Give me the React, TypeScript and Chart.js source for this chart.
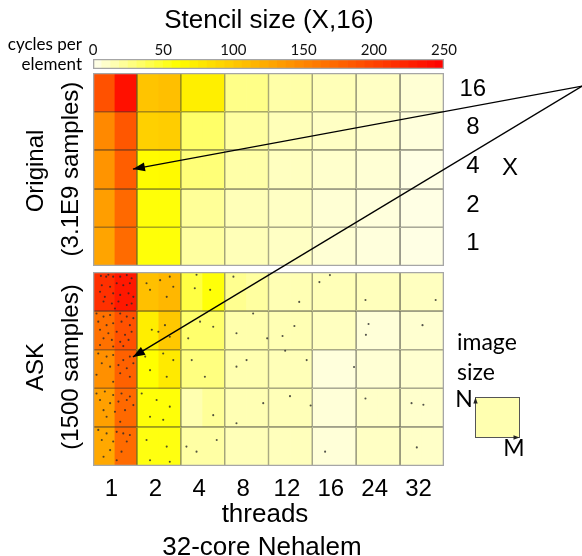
import React, { useEffect, useRef } from 'react';
import { Chart, registerables } from 'chart.js';

Chart.register(...registerables);

const SANS = '"Liberation Sans", Arial, Helvetica, sans-serif';
const HUMAN = 'Lato, "Open Sans", sans-serif';

// ---------------- data ----------------
const threadCounts = ['1', '2', '4', '8', '12', '16', '24', '32'];
// stencil X, rows from top to bottom
const stencilX = ['16', '8', '4', '2', '1'];
const colorbarTicks = [0, 50, 100, 150, 200, 250];
const colorbarMax = 250;

// cycles per element; each row = for every thread count (left half, right half) of the cell
const originalRows: number[][] = [
  [190, 238, 104, 108, 72, 72, 26, 26, 18, 18, 14, 14, 11, 11, 7, 7],
  [148, 185, 95, 97, 34, 34, 20, 20, 14, 14, 11, 11, 9, 9, 5, 5],
  [140, 180, 62, 64, 30, 30, 18, 18, 12, 12, 9, 9, 7, 7, 3, 3],
  [132, 172, 58, 58, 22, 22, 14, 14, 11, 11, 7, 7, 5, 5, 3, 3],
  [128, 170, 58, 58, 20, 20, 14, 14, 11, 11, 7, 7, 5, 5, 3, 3],
];
const askRows: number[][] = [
  [214, 232, 107, 114, 43, 58, 24, 20, 15, 15, 14, 14, 13, 13, 12, 12],
  [166, 190, 73, 101, 33, 33, 17, 17, 15, 15, 12, 12, 6, 6, 8, 8],
  [143, 178, 60, 76, 28, 28, 16, 16, 14, 14, 5, 5, 7, 7, 8, 8],
  [131, 172, 58, 58, 16, 22, 15, 15, 14, 14, 6, 6, 10, 10, 9, 9],
  [125, 170, 56, 56, 19, 19, 14, 14, 13, 13, 6, 6, 11, 11, 10, 10],
];
// ASK sample locations: [thread column position, row position (0 = bottom of X=1 row)]
const askSamples: [number, number][] = [
  [0.18, 4.9], [0.3, 4.88], [0.35, 4.93], [0.46, 4.88], [0.62, 4.88], [0.77, 4.92], [0.88, 4.84],
  [0.2, 4.66], [0.39, 4.62], [0.54, 4.71], [0.69, 4.66], [0.84, 4.71], [0.16, 4.49], [0.27, 4.36],
  [0.46, 4.45], [0.62, 4.41], [0.81, 4.45], [0.92, 4.36], [0.24, 4.24], [0.43, 4.19], [0.58, 4.24],
  [0.77, 4.15], [0.88, 4.19], [0.5, 4.06],
  [0.08, 3.93], [0.24, 3.85], [0.39, 3.89], [0.62, 3.93], [0.77, 3.85], [0.92, 3.81], [0.12, 3.72],
  [0.31, 3.63], [0.46, 3.68], [0.65, 3.72], [0.84, 3.63], [0.16, 3.51], [0.35, 3.42], [0.54, 3.46],
  [0.73, 3.38], [0.88, 3.46], [0.24, 3.29], [0.43, 3.25], [0.62, 3.2], [0.81, 3.25], [0.16, 3.12],
  [0.46, 3.08], [0.69, 3.09],
  [0.12, 2.9], [0.31, 2.82], [0.46, 2.86], [0.69, 2.73], [0.84, 2.82], [0.2, 2.65], [0.39, 2.56],
  [0.58, 2.6], [0.77, 2.52], [0.92, 2.65], [0.08, 2.35], [0.62, 2.39], [0.84, 2.3], [0.46, 2.17],
  [0.08, 1.87], [0.27, 1.92], [0.46, 1.83], [0.65, 1.87], [0.84, 1.79], [0.16, 1.7], [0.39, 1.62],
  [0.58, 1.66], [0.77, 1.7], [0.92, 1.57], [0.24, 1.44], [0.5, 1.4], [0.73, 1.44], [0.31, 1.27],
  [0.62, 1.14],
  [0.12, 0.93], [0.31, 0.84], [0.54, 0.88], [0.69, 0.84], [0.84, 0.8], [0.2, 0.67], [0.46, 0.63],
  [0.77, 0.63], [0.39, 0.41], [0.65, 0.37], [0.24, 0.24], [0.54, 0.15],
  [1.22, 4.71], [1.3, 4.54], [1.53, 4.79], [1.75, 4.88], [1.83, 4.62], [1.68, 4.36], [1.34, 3.51],
  [1.49, 3.46], [1.64, 3.63], [1.75, 3.33], [1.19, 2.82], [1.6, 2.9], [1.83, 2.73], [1.3, 2.47],
  [1.68, 2.3], [1.11, 1.87], [1.45, 1.7], [1.75, 1.53], [1.3, 1.27], [1.6, 1.19], [1.22, 0.67],
  [1.68, 0.5], [1.3, 0.15], [1.75, 0.11],
  [2.36, 4.93], [2.32, 4.58], [2.67, 4.54], [2.17, 3.29], [2.44, 3.72], [2.74, 3.59], [2.25, 2.73],
  [2.55, 2.3], [2.13, 0.5], [2.36, 0.37], [2.82, 0.67], [2.74, 1.31],
  [3.2, 4.88], [3.27, 3.42], [3.65, 3.93], [3.97, 3.29], [3.5, 2.73], [3.27, 2.56], [3.88, 1.62],
  [3.27, 1.1],
  [5.4, 4.92], [5.16, 4.74], [4.7, 4.23], [6.21, 4.28], [7.81, 4.28], [4.59, 3.61], [4.32, 3.35],
  [6.28, 3.66], [6.22, 3.38], [7.51, 3.63], [4.38, 2.97], [4.87, 2.73], [5.95, 2.55], [4.49, 1.8],
  [4.96, 1.56], [6.21, 1.74], [7.26, 1.62], [7.53, 1.58], [5.29, 0.37], [7.38, 0.48],
];
// call-out arrows: [apex, tip] in (thread column, row) units of each panel
const arrowToOriginal: [number, number][] = [[11.15, 4.66], [0.91, 2.51]];
const arrowToAsk: [number, number][] = [[11.15, 9.79], [0.91, 2.81]];

// ---------------- helpers ----------------
function heatColor(v: number): string {
  const t = Math.max(0, Math.min(colorbarMax, v));
  if (t <= 60) return `rgb(255,255,${Math.round(240 * (1 - t / 60))})`;
  return `rgb(255,${Math.round(255 * (1 - (t - 60) / 190))},0)`;
}

const ROWS = stencilX.length;
const COLS = threadCounts.length;

const barBase = {
  type: 'bar',
  grouped: false,
  barPercentage: 1,
  categoryPercentage: 1,
};

function heatSets(rows: number[][], yAxisID: string) {
  return rows.map((vals, r) => ({
    ...barBase,
    xAxisID: 'x',
    yAxisID,
    order: 10,
    borderWidth: 0,
    data: vals.map((_, j) => ({ x: j / 2 + 0.25, y: [ROWS - 1 - r, ROWS - r] })),
    backgroundColor: vals.map(heatColor),
  }));
}

function outlineSets(yAxisID: string) {
  const w = 0.6;
  return stencilX.map((_, r) => ({
    ...barBase,
    xAxisID: 'xo',
    yAxisID,
    order: 3,
    inflateAmount: 0,
    data: threadCounts.map((__, j) => ({ x: j + 0.5, y: [ROWS - 1 - r, ROWS - r] })),
    backgroundColor: 'rgba(0,0,0,0)',
    borderColor: 'rgba(45,45,45,0.9)',
    borderSkipped: false,
    borderWidth: (c: any) => ({
      left: c.dataIndex === 0 ? 0 : w,
      right: c.dataIndex === COLS - 1 ? 0 : w,
      top: r === 0 ? 0 : w,
      bottom: r === ROWS - 1 ? 0 : w,
    }),
  }));
}

function frameSet(yAxisID: string, top: number) {
  return {
    ...barBase,
    xAxisID: 'xf',
    yAxisID,
    order: 2,
    inflateAmount: 0,
    data: [{ x: 0.5, y: [0, top] }],
    backgroundColor: 'rgba(0,0,0,0)',
    borderColor: '#a6a6a6',
    borderWidth: 1.3,
    borderSkipped: false,
  };
}

function arrowSet(points: [number, number][], yAxisID: string) {
  return {
    type: 'line',
    xAxisID: 'x',
    yAxisID,
    order: 1,
    clip: false,
    arrowHead: true,
    data: points.map(([x, y]) => ({ x, y })),
    borderColor: '#000',
    borderWidth: 1.4,
    pointRadius: 0,
    fill: false,
    tension: 0,
  };
}

const cbSteps = 40;
const cbValues = Array.from({ length: cbSteps }, (_, k) => ((k + 0.5) * colorbarMax) / cbSteps);

const annotationPlugin = {
  id: 'annotations',
  afterDatasetsDraw(chart: any) {
    const ctx = chart.ctx as CanvasRenderingContext2D;
    const head = (bx: number, by: number, ang: number, L: number, W: number) => {
      const c = Math.cos(ang), s = Math.sin(ang);
      ctx.beginPath();
      ctx.moveTo(bx, by);
      ctx.lineTo(bx - L * c + W * s, by - L * s - W * c);
      ctx.lineTo(bx - L * c - W * s, by - L * s + W * c);
      ctx.closePath();
      ctx.fill();
    };
    ctx.save();
    ctx.fillStyle = '#000';
    chart.data.datasets.forEach((ds: any, i: number) => {
      if (!ds.arrowHead) return;
      const pts = chart.getDatasetMeta(i).data;
      const a = pts[0], b = pts[pts.length - 1];
      head(b.x, b.y, Math.atan2(b.y - a.y, b.x - a.x), 12, 4.5);
    });
    // "image size" key: small N x M square
    const x0 = chart.chartArea.right + 31.5, x1 = x0 + 44;
    const y0 = 397.5, y1 = y0 + 40;
    ctx.fillStyle = '#ffffb0';
    ctx.fillRect(x0, y0, x1 - x0, y1 - y0);
    ctx.strokeStyle = '#555';
    ctx.lineWidth = 1;
    ctx.strokeRect(x0, y0, x1 - x0, y1 - y0);
    ctx.fillStyle = '#222';
    head(x0, y0, -Math.PI / 2, 6, 2.2);
    head(x1, y1, 0, 6, 2.2);
    ctx.restore();
  },
};

const hiddenY = (weight: number, stackWeight: number, stack: string, width: number, max = 1) => ({
  type: 'linear',
  axis: 'y',
  position: stack === 'L' ? 'left' : 'right',
  stack,
  stackWeight,
  weight,
  min: 0,
  max,
  ticks: { display: false },
  grid: { display: false, drawTicks: false, tickLength: 0 },
  border: { display: false },
  afterFit: (s: any) => {
    s.width = width;
  },
});

export default function App() {
  const ref = useRef<HTMLCanvasElement>(null);

  useEffect(() => {
    if (!ref.current) return;
    const datasets: any[] = [
      ...heatSets(originalRows, 'yO'),
      ...heatSets(askRows, 'yA'),
      {
        ...barBase,
        xAxisID: 'xc',
        yAxisID: 'yC',
        order: 9,
        borderWidth: 0,
        data: cbValues.map((v) => ({ x: v, y: [0, 1] })),
        backgroundColor: cbValues.map(heatColor),
      },
      {
        type: 'scatter',
        xAxisID: 'x',
        yAxisID: 'yA',
        order: 4,
        data: askSamples.map(([x, y]) => ({ x, y })),
        pointRadius: 1.05,
        pointBorderWidth: 0,
        pointBackgroundColor: 'rgba(40,40,40,0.8)',
      },
      ...outlineSets('yO'),
      ...outlineSets('yA'),
      frameSet('yO', ROWS),
      frameSet('yA', ROWS),
      frameSet('yC', 1),
      arrowSet(arrowToOriginal, 'yO'),
      arrowSet(arrowToAsk, 'yA'),
    ];

    const LEFT = 93;
    const RIGHT = 138;
    const chart = new Chart(ref.current, {
      type: 'bar',
      data: { datasets },
      plugins: [annotationPlugin],
      options: {
        responsive: false,
        animation: false,
        events: [],
        layout: { padding: 0 },
        plugins: { legend: { display: false }, tooltip: { enabled: false }, title: { display: false } },
        scales: {
          x: {
            type: 'linear',
            axis: 'x',
            position: 'bottom',
            min: 0,
            max: COLS,
            offset: false,
            afterBuildTicks: (s: any) => {
              s.ticks = threadCounts.map((_, i) => ({ value: i + 0.42 }));
            },
            afterFit: (s: any) => {
              s.height = 90;
            },
            ticks: {
              autoSkip: false,
              maxRotation: 0,
              padding: 9,
              color: '#000',
              font: { family: SANS, size: 24, lineHeight: 1.2 },
              callback: (_v: any, i: number) => threadCounts[i],
            },
            grid: { display: false, offset: false, drawTicks: false, tickLength: 0 },
            border: { display: false },
          },
          xo: {
            type: 'linear',
            axis: 'x',
            position: 'bottom',
            display: false,
            min: 0,
            max: COLS,
            offset: false,
            afterBuildTicks: (s: any) => {
              s.ticks = Array.from({ length: COLS + 1 }, (_, i) => ({ value: i }));
            },
            grid: { offset: false },
          },
          xf: {
            type: 'linear',
            axis: 'x',
            position: 'bottom',
            display: false,
            min: 0,
            max: 1,
            offset: false,
            afterBuildTicks: (s: any) => {
              s.ticks = [{ value: 0 }, { value: 1 }];
            },
            grid: { offset: false },
          },
          xc: {
            type: 'linear',
            axis: 'x',
            position: 'top',
            min: 0,
            max: colorbarMax,
            offset: false,
            afterBuildTicks: (s: any) => {
              s.ticks = colorbarTicks.map((v) => ({ value: v }));
            },
            afterFit: (s: any) => {
              s.height = 59;
            },
            ticks: {
              autoSkip: false,
              maxRotation: 0,
              padding: 0,
              color: '#111',
              font: { family: HUMAN, size: 15, lineHeight: 1.2 },
            },
            grid: { display: false, offset: false, drawTicks: false, tickLength: 0 },
            border: { display: false },
          },
          // left stack: colorbar, gap, Original, gap, ASK
          yC: hiddenY(5, 10, 'L', LEFT),
          yGap1: hiddenY(4, 4, 'L', LEFT),
          yO: hiddenY(3, 193, 'L', LEFT, ROWS),
          yGap2: hiddenY(2, 6, 'L', LEFT),
          yA: hiddenY(1, 194, 'L', LEFT, ROWS),
          // right stack: labels of X next to the Original panel
          yRt: hiddenY(1, 14, 'R', RIGHT),
          yR: {
            type: 'linear',
            axis: 'y',
            position: 'right',
            stack: 'R',
            stackWeight: 193,
            weight: 2,
            min: 0,
            max: ROWS,
            afterBuildTicks: (s: any) => {
              s.ticks = stencilX.map((_, i) => ({ value: i + 0.58 }));
            },
            afterFit: (s: any) => {
              s.width = RIGHT;
            },
            ticks: {
              crossAlign: 'center',
              padding: 15.5,
              color: '#000',
              font: { family: SANS, size: 24 },
              callback: (_v: any, i: number) => stencilX[ROWS - 1 - i],
            },
            grid: { display: false, drawTicks: false, tickLength: 0 },
            border: { display: false },
          },
          yRb: hiddenY(3, 200, 'R', RIGHT),
        },
      } as any,
    } as any);
    return () => chart.destroy();
  }, []);

  const text = (
    content: string,
    x: number,
    y: number,
    size: number,
    family: string,
    extra: React.CSSProperties = {}
  ) => (
    <div
      style={{
        position: 'absolute',
        left: x,
        top: y,
        transform: 'translate(-50%, -50%)',
        fontFamily: family,
        fontSize: size,
        lineHeight: 1,
        whiteSpace: 'nowrap',
        color: '#000',
        ...extra,
      }}
    >
      {content}
    </div>
  );

  const rotated = (content: string, x: number, y: number) =>
    text(content, x, y, 24, SANS, { transform: 'translate(-50%, -50%) rotate(-90deg)' });

  return (
    <div
      style={{
        position: 'fixed',
        left: 0,
        top: 0,
        width: 582,
        height: 556,
        background: '#fff',
        overflow: 'hidden',
      }}
    >
      <canvas
        ref={ref}
        width={582}
        height={556}
        style={{ position: 'absolute', left: 0, top: 0, width: 582, height: 556 }}
      />
      {text('Stencil size (X,16)', 269, 19, 26, SANS)}
      <div
        style={{
          position: 'absolute',
          right: 582 - 82,
          top: 34,
          fontFamily: HUMAN,
          fontSize: 17,
          lineHeight: '20px',
          textAlign: 'right',
          color: '#000',
          whiteSpace: 'nowrap',
        }}
      >
        cycles per
        <br />
        element
      </div>
      {rotated('Original', 35, 171)}
      {rotated('(3.1E9 samples)', 70, 169)}
      {rotated('ASK', 35, 367)}
      {rotated('(1500 samples)', 70, 367)}
      {text('X', 510, 167, 24, SANS)}
      {text('threads', 265, 513, 26, SANS)}
      {text('32-core Nehalem', 262, 546, 26, SANS)}
      <div
        style={{
          position: 'absolute',
          left: 457,
          top: 326,
          fontFamily: HUMAN,
          fontSize: 23,
          lineHeight: '30px',
          color: '#000',
          whiteSpace: 'nowrap',
        }}
      >
        image
        <br />
        size
      </div>
      {text('N', 464, 398, 23, HUMAN)}
      {text('M', 514, 447, 23, HUMAN)}
    </div>
  );
}
